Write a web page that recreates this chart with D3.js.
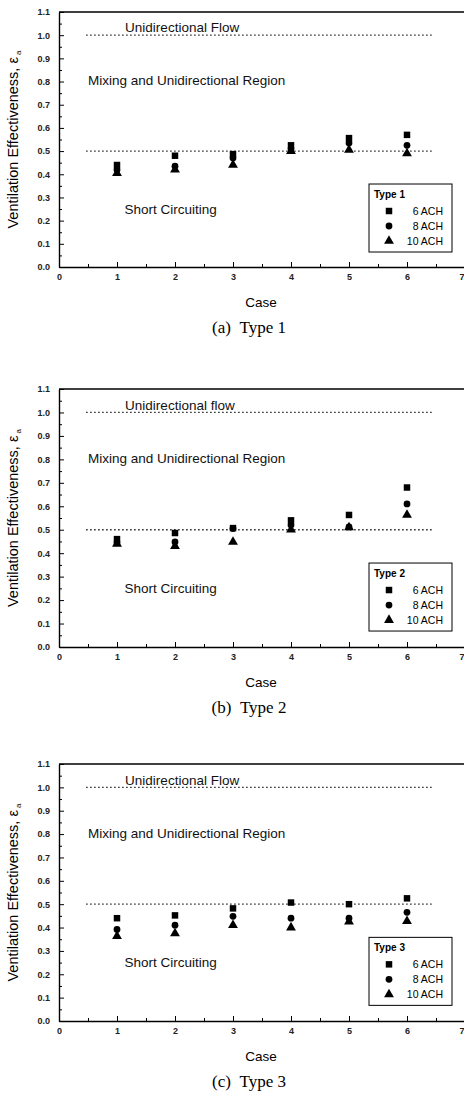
<!DOCTYPE html>
<html>
<head>
<meta charset="utf-8">
<script src="https://cdn.jsdelivr.net/npm/d3@7"></script>
<style>
  body { margin: 0; background: #fff; }
  svg { display: block; font-family: "Liberation Sans", Arial, sans-serif; }
</style>
</head>
<body>
<div id="chart"></div>
<script>
// cases along the x axis
var cases = [1, 2, 3, 4, 5, 6];
var achLabels = ['6 ACH', '8 ACH', '10 ACH'];
var xTicks = [0, 1, 2, 3, 4, 5, 6, 7];
var yTicks = [0.0, 0.1, 0.2, 0.3, 0.4, 0.5, 0.6, 0.7, 0.8, 0.9, 1.0, 1.1];

// Type 1
var type1Ach6 = [0.44, 0.48, 0.487, 0.525, 0.556, 0.57];
var type1Ach8 = [0.42, 0.435, 0.47, 0.51, 0.535, 0.525];
var type1Ach10 = [0.405, 0.42, 0.44, 0.50, 0.505, 0.49];

// Type 2
var type2Ach6 = [0.46, 0.486, 0.507, 0.54, 0.563, 0.68];
var type2Ach8 = [0.445, 0.448, 0.505, 0.52, 0.512, 0.61];
var type2Ach10 = [0.44, 0.43, 0.448, 0.50, 0.51, 0.563];

// Type 3
var type3Ach6 = [0.44, 0.452, 0.482, 0.507, 0.50, 0.525];
var type3Ach8 = [0.392, 0.41, 0.448, 0.44, 0.44, 0.465];
var type3Ach10 = [0.363, 0.375, 0.41, 0.40, 0.425, 0.427];

var boundaryLines = [1.0, 0.5];

var panels = [
	{top: 12, bottom: 267, name: 'Type 1', caption: '(a)\u2002Type 1', flowText: 'Unidirectional Flow', series: [type1Ach6, type1Ach8, type1Ach10]},
	{top: 389, bottom: 647, name: 'Type 2', caption: '(b)\u2002Type 2', flowText: 'Unidirectional flow', series: [type2Ach6, type2Ach8, type2Ach10]},
	{top: 764, bottom: 1021, name: 'Type 3', caption: '(c)\u2002Type 3', flowText: 'Unidirectional Flow', series: [type3Ach6, type3Ach8, type3Ach10]}
];

var width = 464, height = 1100;
var left = 59, right = 465;
var symbols = [d3.symbolSquare, d3.symbolCircle, d3.symbolTriangle];
var symbolSizes = [42, 36, 42];

var svg = d3.select('#chart').append('svg')
	.attr('width', width)
	.attr('height', height);

svg.append('rect').attr('width', width).attr('height', height).attr('fill', '#fff');

function drawPanel(p) {
	var g = svg.append('g');
	var x = d3.scaleLinear().domain([0, 7]).range([left, right]);
	var y = d3.scaleLinear().domain([0, 1.1]).range([p.bottom, p.top]);

	// minor ticks
	g.append('g')
		.attr('transform', 'translate(' + left + ',0)')
		.call(d3.axisLeft(y).tickValues(d3.range(0.05, 1.1, 0.1)).tickSize(-3).tickSizeOuter(0).tickFormat(''))
		.call(function(a) { a.select('.domain').remove(); });
	g.append('g')
		.attr('transform', 'translate(0,' + p.bottom + ')')
		.call(d3.axisBottom(x).tickValues(d3.range(0.5, 7, 1)).tickSize(-3).tickSizeOuter(0).tickFormat(''))
		.call(function(a) { a.select('.domain').remove(); });

	// major axes
	var yAxis = g.append('g')
		.attr('transform', 'translate(' + left + ',0)')
		.call(d3.axisLeft(y).tickValues(yTicks).tickSize(-5).tickSizeOuter(0).tickPadding(9).tickFormat(d3.format('.1f')));
	var xAxis = g.append('g')
		.attr('transform', 'translate(0,' + p.bottom + ')')
		.call(d3.axisBottom(x).tickValues(xTicks).tickSize(-5).tickSizeOuter(0).tickPadding(7).tickFormat(d3.format('d')));

	[yAxis, xAxis].forEach(function(a) {
		a.selectAll('text').attr('font-size', 9).attr('font-weight', 'bold').attr('fill', '#222').style('font-family', 'Liberation Sans, Arial, sans-serif');
		a.select('.domain').attr('stroke-width', 1.4);
		a.selectAll('.tick line').attr('stroke-width', 1);
	});
	// last x label sits on the page edge: keep it inside
	xAxis.selectAll('.tick text').filter(function(d) { return d === 7; })
		.attr('text-anchor', 'end')
		.attr('dx', -1);

	// frame top and right
	g.append('path')
		.attr('d', 'M' + x(0) + ',' + y(1.1) + 'H' + x(7) + 'V' + y(0))
		.attr('fill', 'none')
		.attr('stroke', '#000')
		.attr('stroke-width', 1.4);

	// dotted boundary lines
	g.selectAll('.boundary')
		.data(boundaryLines)
		.enter()
		.append('line')
		.attr('class', 'boundary')
		.attr('x1', x(0.47))
		.attr('x2', x(6.45))
		.attr('y1', function(d) { return y(d); })
		.attr('y2', function(d) { return y(d); })
		.attr('stroke', '#000')
		.attr('stroke-width', 1.3)
		.attr('stroke-dasharray', '1.3,2.7');

	// region labels
	var notes = [
		{text: p.flowText, cx: 1.14, cy: 1.012},
		{text: 'Mixing and Unidirectional Region', cx: 0.5, cy: 0.785},
		{text: 'Short Circuiting', cx: 1.13, cy: 0.229}
	];
	g.selectAll('.note')
		.data(notes)
		.enter()
		.append('text')
		.attr('class', 'note')
		.attr('x', function(d) { return x(d.cx); })
		.attr('y', function(d) { return y(d.cy); })
		.attr('font-size', 13.5)
		.attr('fill', '#111')
		.text(function(d) { return d.text; });

	// data points
	p.series.forEach(function(values, si) {
		g.selectAll('.pt' + si)
			.data(values)
			.enter()
			.append('path')
			.attr('class', 'pt' + si)
			.attr('transform', function(d, i) { return 'translate(' + x(cases[i]) + ',' + y(d) + ')'; })
			.attr('d', d3.symbol().type(symbols[si]).size(symbolSizes[si]))
			.attr('fill', '#000');
	});

	// legend
	var lx = 369, ly = y(0.358);
	var legend = g.append('g').attr('class', 'legend').attr('transform', 'translate(' + lx + ',' + ly + ')');
	legend.append('rect')
		.attr('width', 83)
		.attr('height', 68)
		.attr('fill', '#fff')
		.attr('stroke', '#000')
		.attr('stroke-width', 1);
	legend.append('text')
		.attr('x', 5)
		.attr('y', 14)
		.attr('font-size', 10)
		.attr('font-weight', 'bold')
		.text(p.name);
	var item = legend.selectAll('.legend-item')
		.data(achLabels)
		.enter()
		.append('g')
		.attr('class', 'legend-item')
		.attr('transform', function(d, i) { return 'translate(0,' + (27 + i * 15) + ')'; });
	item.append('path')
		.attr('transform', 'translate(20,0)')
		.attr('d', function(d, i) { return d3.symbol().type(symbols[i]).size(symbolSizes[i])(); })
		.attr('fill', '#000');
	item.append('text')
		.attr('x', 74)
		.attr('y', 4)
		.attr('text-anchor', 'end')
		.attr('font-size', 10.5)
		.text(function(d) { return d; });

	// axis titles
	g.append('text')
		.attr('x', 261)
		.attr('y', p.bottom + 40)
		.attr('text-anchor', 'middle')
		.attr('font-size', 13.5)
		.text('Case');

	var yl = g.append('text')
		.attr('transform', 'translate(18,' + ((p.top + p.bottom) / 2) + ') rotate(-90)')
		.attr('text-anchor', 'middle')
		.attr('font-size', 14.5);
	yl.append('tspan').text('Ventilation Effectiveness, \u03b5');
	yl.append('tspan').attr('font-size', 8).attr('dy', 3).text(' a');

	g.append('text')
		.attr('x', 249)
		.attr('y', p.bottom + 66)
		.attr('text-anchor', 'middle')
		.attr('font-size', 17)
		.style('font-family', 'Liberation Serif, Times New Roman, serif')
		.text(p.caption);
}

panels.forEach(drawPanel);
</script>
</body>
</html>
